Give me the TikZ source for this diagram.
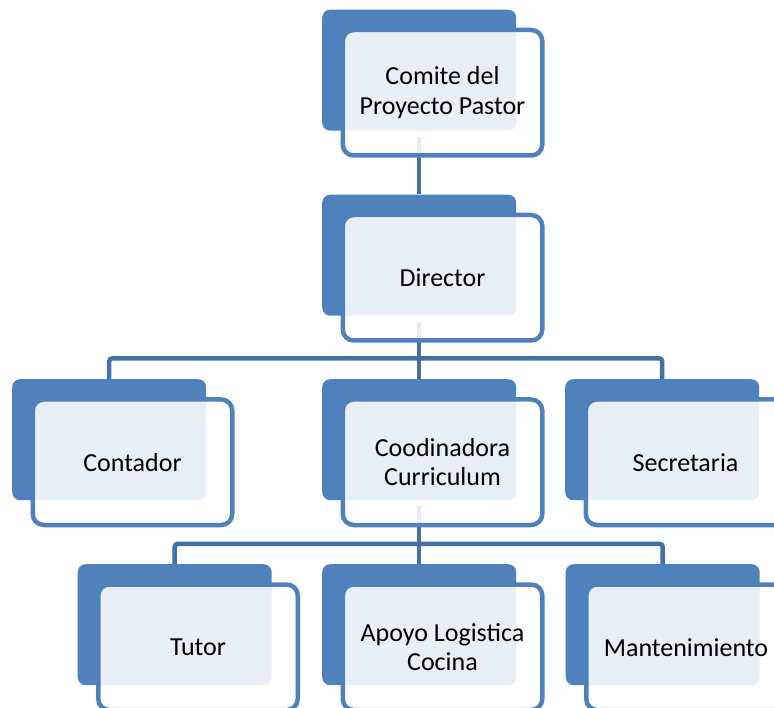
\documentclass[tikz,border=0pt]{standalone}
\usepackage{fontspec}
\setmainfont{Carlito}
\definecolor{accentblue}{HTML}{4F81BD}
\definecolor{linkblue}{HTML}{4270A7}
\pgfdeclarelayer{links}
\pgfsetlayers{links,main}
\tikzset{
  backbox/.style={fill=accentblue, draw=none, rounded corners=8pt,
    minimum width=194pt, minimum height=121pt, inner sep=0pt, anchor=north west},
  frontbox/.style={draw=accentblue, line width=4.5pt, fill=white, fill opacity=0.88,
    text opacity=1, rounded corners=11pt, minimum width=199.5pt, minimum height=125.5pt,
    inner sep=0pt, anchor=north west, align=center,
    font=\fontsize{26}{29.5}\selectfont},
  link/.style={draw=linkblue, line width=4.5pt, rounded corners=3pt},
}
\newcommand{\orgunit}[4]{%
  \node[backbox] (#1) at (#2) {};
  \node[frontbox] (#3) at ([xshift=18.5pt,yshift=-18.25pt]#1.north west) {#4};
}
\begin{document}
\begin{tikzpicture}[x=1pt,y=1pt]
  \clip (0,0) rectangle (774,-708);
  % top level
  \orgunit{b0}{322,-9.5}{f0}{Comite del\\Proyecto Pastor}
  \orgunit{b1}{322,-194.5}{f1}{Director}
  % second level
  \orgunit{b21}{12,-379}{f21}{Contador}
  \orgunit{b22}{322,-379}{f22}{Coodinadora\\Curriculum}
  \orgunit{b23}{565,-379}{f23}{Secretaria}
  % third level
  \orgunit{b31}{77.5,-564}{f31}{Tutor}
  \orgunit{b32}{322,-564}{f32}{Apoyo Logistica\\Cocina}
  \orgunit{b33}{565.5,-564}{f33}{Mantenimiento}
  % connectors behind the boxes
  \begin{pgfonlayer}{links}
    \draw[link] ([yshift=-6pt]b0.south) -- (b1.north);
    \coordinate (j1) at ([yshift=-42.5pt]b1.south);
    \draw[link] ([yshift=-6pt]b1.south) -- (j1);
    \draw[link] (b21.north) |- (j1) -| (b23.north);
    \draw[link] (j1) -- (b22.north);
    \coordinate (j2) at ([yshift=-43.5pt]b22.south);
    \draw[link] ([yshift=-6pt]b22.south) -- (j2);
    \draw[link] (b31.north) |- (j2) -| (b33.north);
    \draw[link] (j2) -- (b32.north);
  \end{pgfonlayer}
\end{tikzpicture}
\end{document}
